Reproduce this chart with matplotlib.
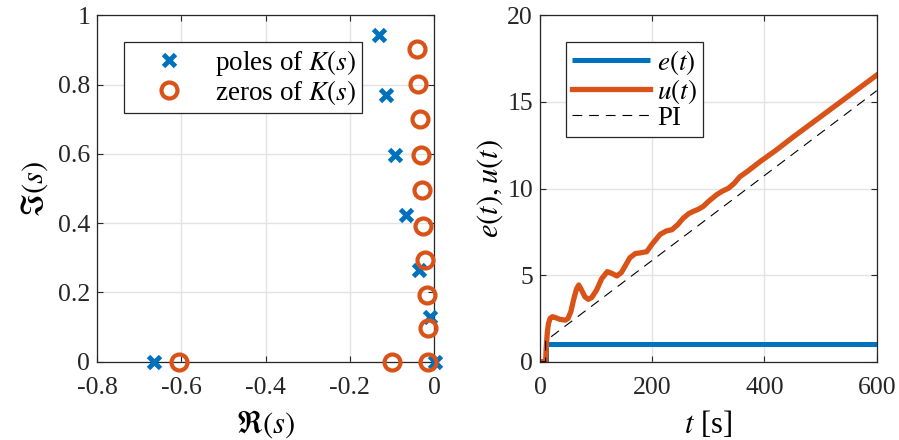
import matplotlib
matplotlib.use("Agg")
import matplotlib.pyplot as plt

# ── Data ─────────────────────────────────────────────────────────────────────

POLES_RE = [-0.666, -0.130, -0.114, -0.092, -0.067, -0.036, -0.009, 0.002]
POLES_IM = [0.0, 0.944, 0.769, 0.597, 0.425, 0.266, 0.130, 0.0]

ZEROS_RE = [-0.606, -0.100, -0.013, -0.013, -0.016, -0.021, -0.025, -0.028, -0.031, -0.034, -0.038, -0.041]
ZEROS_IM = [0.0, 0.0, 0.0, 0.097, 0.193, 0.293, 0.393, 0.495, 0.597, 0.700, 0.802, 0.903]

T_E = [0, 10, 10, 600]
E = [0, 0, 1, 1]

T_U = [0, 10, 11, 13, 15, 18, 22, 27, 35, 45, 50, 55, 60, 65, 69, 73, 80, 86, 92,
       101, 110, 120, 128, 137, 145, 153, 160, 170, 178, 190, 200, 214, 225, 235,
       245, 255, 265, 273, 282, 291, 300, 315, 325, 336, 346, 356, 370, 392, 420,
       450, 500, 550, 600]
U = [0, 0, 0.8, 1.7, 2.2, 2.5, 2.6, 2.55, 2.45, 2.4, 2.5, 2.9, 3.6, 4.2, 4.43,
     4.2, 3.75, 3.6, 3.7, 4.15, 4.8, 5.2, 5.1, 4.95, 5.15, 5.6, 6.0, 6.25, 6.28,
     6.35, 6.8, 7.35, 7.55, 7.62, 7.9, 8.28, 8.55, 8.68, 8.8, 8.97, 9.25, 9.65,
     9.85, 10.02, 10.3, 10.68, 11.0, 11.55, 12.2, 12.95, 14.15, 15.35, 16.55]

T_PI = [0, 10, 10, 600]
U_PI = [0, 0, 1.2, 15.65]

BLUE = "#0072BD"
ORANGE = "#D95319"
AXIS = "#262626"
GRID = "#e3e3e3"

plt.rcParams.update({
    "font.family": "Liberation Serif",
    "mathtext.fontset": "stix",
    "axes.unicode_minus": False,
    "font.size": 18,
    "lines.scale_dashes": False,
})


def style_axes(ax):
    for s in ax.spines.values():
        s.set_color(AXIS)
        s.set_linewidth(0.9)
    ax.tick_params(direction="in", length=4, width=0.8, colors=AXIS,
                   top=True, right=True, labelsize=18.5)
    ax.tick_params(axis="x", pad=11)
    ax.tick_params(axis="y", pad=5)
    ax.grid(True, color=GRID, linewidth=1.0)
    ax.set_axisbelow(True)


def add_legend(ax, x0):
    leg = ax.legend(loc="upper left", bbox_to_anchor=(x0, 0.924), borderaxespad=0,
                    fontsize=19.5, handlelength=2.9, handletextpad=0.25,
                    labelspacing=0.0, borderpad=0.22, fancybox=False,
                    framealpha=1, edgecolor=AXIS)
    leg.get_frame().set_linewidth(0.9)
    return leg


fig = plt.figure(figsize=(8.99, 4.40), dpi=100)

# Left: pole/zero map
ax1 = fig.add_axes([0.1082, 0.178, 0.3745, 0.787])
style_axes(ax1)
ax1.plot(POLES_RE, POLES_IM, "x", color=BLUE, markersize=8, markeredgewidth=3.5,
         label=r"poles of $K(s)$", clip_on=False, zorder=3)
ax1.plot(ZEROS_RE, ZEROS_IM, "o", color=ORANGE, markerfacecolor="none", markersize=11.5,
         markeredgewidth=3, label=r"zeros of $K(s)$", clip_on=False, zorder=4)
ax1.set_xlim(-0.8, 0)
ax1.set_ylim(0, 1)
ax1.set_xticks([-0.8, -0.6, -0.4, -0.2, 0])
ax1.set_xticklabels(["-0.8", "-0.6", "-0.4", "-0.2", "0"])
ax1.set_yticks([0, 0.2, 0.4, 0.6, 0.8, 1])
ax1.set_yticklabels(["0", "0.2", "0.4", "0.6", "0.8", "1"])
ax1.set_xlabel(r"$\Re(s)$", fontsize=22, labelpad=7)
ax1.set_ylabel(r"$\Im(s)$", fontsize=22, labelpad=6)
add_legend(ax1, 0.079)

# Right: time responses
ax2 = fig.add_axes([0.6007, 0.178, 0.3745, 0.787])
style_axes(ax2)
ax2.plot(T_E, E, color=BLUE, linewidth=3.6, label=r"$e(t)$", solid_capstyle="butt")
ax2.plot(T_U, U, color=ORANGE, linewidth=3.8, label=r"$u(t)$", solid_joinstyle="round")
ax2.plot(T_PI, U_PI, color="black", linewidth=0.8, dashes=(7, 5), label="PI")
ax2.set_xlim(0, 600)
ax2.set_ylim(0, 20)
ax2.set_xticks([0, 200, 400, 600])
ax2.set_yticks([0, 5, 10, 15, 20])
ax2.set_xlabel(r"$t$ [s]", fontsize=22, labelpad=7)
ax2.set_ylabel(r"$e(t), u(t)$", fontsize=22, labelpad=2)
add_legend(ax2, 0.077)

fig.savefig("out.png", dpi=100)
